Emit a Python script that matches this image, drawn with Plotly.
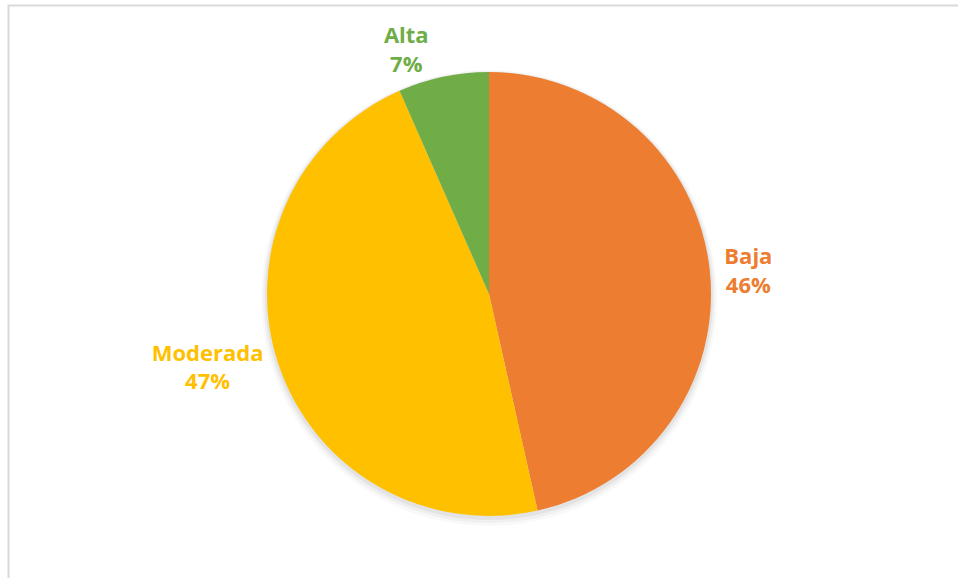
import plotly.graph_objects as go

categories = ["Baja", "Moderada", "Alta"]
values = [46.49, 46.91, 6.6]
colors = ["#ED7D31", "#FFC000", "#70AD47"]

W, H = 958, 578
cx, cy, r = 489, 294, 222

fig = go.Figure(go.Pie(
    labels=categories,
    values=values,
    sort=False,
    direction="clockwise",
    rotation=0,
    marker=dict(colors=colors, line=dict(width=0)),
    texttemplate="%{label}<br>%{percent:.0%}",
    textposition="outside",
    textfont=dict(color=colors, size=22, family="Open Sans", weight="bold"),
    showlegend=False,
    hoverinfo="skip",
    domain=dict(x=[(cx - r) / W, (cx + r) / W], y=[(H - cy - r) / H, (H - cy + r) / H]),
))

# soft shadow behind the pie
for dr, dy, a in [(6, 4, 0.025), (4, 3, 0.035), (2, 2, 0.05)]:
    fig.add_shape(type="circle", xref="paper", yref="paper", layer="below",
                  x0=(cx - r - dr) / W, x1=(cx + r + dr) / W,
                  y0=(H - (cy + dy) - r - dr) / H, y1=(H - (cy + dy) + r + dr) / H,
                  line=dict(width=0), fillcolor=f"rgba(0,0,0,{a})")

fig.add_shape(type="rect", xref="paper", yref="paper",
              x0=8.5 / W, x1=1.05, y0=-0.05, y1=1 - 5.5 / H,
              line=dict(color="#D9D9D9", width=2), fillcolor="rgba(0,0,0,0)")

fig.update_layout(
    width=W, height=H,
    margin=dict(l=0, r=0, t=0, b=0),
    paper_bgcolor="white",
    plot_bgcolor="white",
)

fig.write_html("out.html")
